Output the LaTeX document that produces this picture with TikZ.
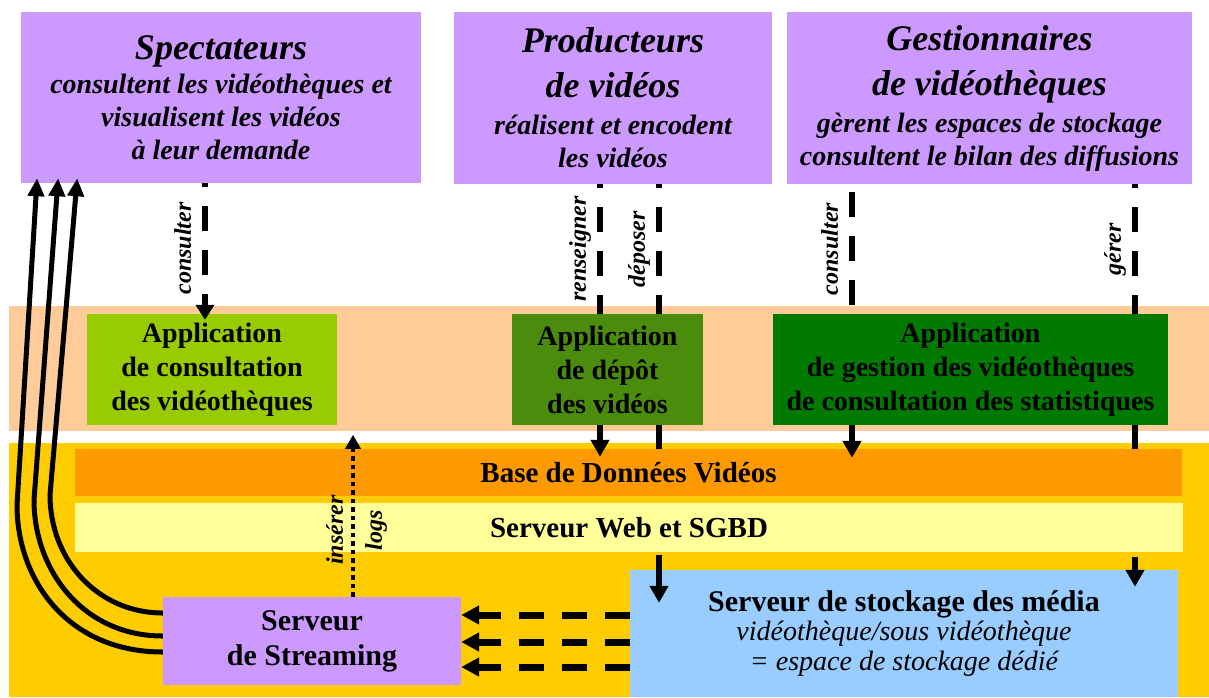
\documentclass[tikz,border=0pt]{standalone}
\usepackage{fontspec}
\setmainfont{Liberation Serif}
\usetikzlibrary{arrows.meta,calc}

\definecolor{mauve}{HTML}{CC99FF}
\definecolor{peche}{HTML}{FFCC99}
\definecolor{jaunefonce}{HTML}{FFCC00}
\definecolor{orangebdd}{HTML}{FF9900}
\definecolor{jauneclair}{HTML}{FFFF99}
\definecolor{bleuclair}{HTML}{99CCFF}
\definecolor{vertclair}{HTML}{99CC00}
\definecolor{vertmoyen}{HTML}{4C8C0C}
\definecolor{vertfonce}{HTML}{007A00}

\newcommand{\titre}{\fontsize{36}{44}\selectfont\bfseries\itshape}
\newcommand{\soustitre}{\fontsize{28}{33}\selectfont\bfseries\itshape}
\newcommand{\boite}{\fontsize{28}{34}\selectfont\bfseries}
\newcommand{\etiq}{\fontsize{24}{26}\selectfont\bfseries\itshape}

\begin{document}
\begin{tikzpicture}
    [
        x = 1pt, y = -1pt,
        acteur/.style = {fill = mauve, inner sep = 0pt, align = center, font = \soustitre},
        appli/.style = {inner sep = 0pt, align = center, font = \boite, minimum height = 111pt},
        couche/.style = {inner sep = 0pt, font = \fontsize{29}{34}\selectfont\bfseries},
        tiret/.style = {line width = 6.5pt, dash pattern = on 25pt off 19pt, dash phase = 21pt},
        tiretfleche/.style = {tiret, -{Triangle[length = 15pt, width = 18pt]}},
        trait/.style = {line width = 6.5pt, -{Triangle[length = 17pt, width = 18pt]}},
        plein/.style = {line width = 6.5pt},
        retour/.style = {line width = 7pt, dash pattern = on 25pt off 18pt, -{Triangle[length = 18pt, width = 18pt]}},
        flux/.style = {line width = 5pt, -{Triangle[length = 18pt, width = 16pt]}},
        journal/.style = {line width = 4.5pt, dash pattern = on 4.5pt off 4pt, -{Triangle[length = 14pt, width = 15pt]}},
        etiquette/.style = {font = \etiq, rotate = 90, anchor = south, text depth = 0pt, inner xsep = 0pt, inner ysep = 11pt}
    ]

        \useasboundingbox (0,0) rectangle (1209,697);
        \fill[white] (0,0) rectangle (1209,697);
        \fill[peche] (9,306) rectangle (1209,431);
        \fill[jaunefonce] (9,443) rectangle (1209,697);

        \coordinate (xcons) at (205,0);
        \coordinate (xrens) at (600,0);
        \coordinate (xdep) at (659,0);
        \coordinate (xgcons) at (852,0);
        \coordinate (xger) at (1135,0);
        \coordinate (xlogs) at (353,0);

        \node[acteur, minimum width = 400pt, minimum height = 171pt] (spect) at (221,97.5)
            {{\titre Spectateurs}\\[1pt] consultent les vidéothèques et\\ visualisent les vidéos\\ à leur demande};
        \node[acteur, minimum width = 318pt, minimum height = 172pt] (prod) at (613,98)
            {{\titre Producteurs}\\[12pt] {\titre de vidéos}\\[4pt] réalisent et encodent\\ les vidéos};
        \node[acteur, minimum width = 405pt, minimum height = 172pt] (gest) at (989.5,98)
            {{\titre Gestionnaires}\\[12pt] {\titre de vidéothèques}\\[4pt] gèrent les espaces de stockage\\ consultent le bilan des diffusions};

        \node[appli, fill = vertclair, minimum width = 250pt] (appcons) at (212,369.5)
            {Application\\ de consultation\\ des vidéothèques};
        \node[appli, fill = vertmoyen, minimum width = 191pt] (appdep) at (607.5,369.5)
            {Application\\ de dépôt\\ des vidéos};
        \node[appli, fill = vertfonce, minimum width = 395pt] (appgest) at (970.5,369.5)
            {Application\\ de gestion des vidéothèques\\ de consultation des statistiques};

        \node[couche, fill = orangebdd, minimum width = 1107pt, minimum height = 47pt] (bdd) at (628.5,472.5)
            {Base de Données Vidéos};
        \node[couche, fill = jauneclair, minimum width = 1108pt, minimum height = 49pt] (web) at (629,527.5)
            {Serveur Web et SGBD};

        \node[fill = bleuclair, inner sep = 0pt, align = center, minimum width = 548pt, minimum height = 127pt] (stock) at (904,633.5)
            {{\fontsize{30}{31}\selectfont\bfseries Serveur de stockage des média}\\[2pt]
             {\fontsize{28}{31}\selectfont\itshape vidéothèque/sous vidéothèque}\\[3pt]
             {\fontsize{28}{31}\selectfont\itshape = espace de stockage dédié}};
        \node[acteur, font = \fontsize{30}{35}\selectfont\bfseries, minimum width = 298pt, minimum height = 88pt] (stream) at (312,641)
            {Serveur\\ de Streaming};

        \draw[tiretfleche, shorten >= -6pt] (spect.south -| xcons) -- (appcons.north -| xcons)
            node[etiquette, midway] {consulter};

        \draw[tiret] (prod.south -| xrens) -- (appdep.north -| xrens)
            node[etiquette, midway] {renseigner};
        \draw[trait, shorten >= -8pt] (appdep.south -| xrens) -- (bdd.north -| xrens);

        \draw[tiret] (prod.south -| xdep) -- (appdep.north -| xdep)
            node[etiquette, midway] {déposer};
        \draw[plein] (appdep.south -| xdep) -- (bdd.north -| xdep);
        \draw[trait, shorten <= 3pt, shorten >= -33pt] (web.south -| xdep) -- (stock.north -| xdep);

        \draw[tiret, dash phase = 36pt] (gest.south -| xgcons) -- (appgest.north -| xgcons)
            node[etiquette, midway] {consulter};
        \draw[trait, shorten >= -9pt] (appgest.south -| xgcons) -- (bdd.north -| xgcons);

        \draw[tiret] (gest.south -| xger) -- (appgest.north -| xger)
            node[etiquette, midway] {gérer};
        \draw[plein] (appgest.south -| xger) -- (bdd.north -| xger);
        \draw[trait, shorten <= 5pt, shorten >= -17pt] (web.south -| xger) -- (stock.north -| xger);

        \draw[journal, shorten >= -14pt] (stream.north -| xlogs) -- (bdd.north -| xlogs)
            node[etiquette, pos = 0.45, inner ysep = 8pt] {insérer}
            node[etiquette, pos = 0.45, anchor = north, inner ysep = 10pt] {logs};

        \draw[retour] ([yshift = 18.5pt]stock.west) coordinate (r1) -- (r1 -| stream.east);
        \draw[retour] ([yshift = -8.5pt]stock.west) coordinate (r2) -- (r2 -| stream.east);
        \draw[retour] ([yshift = -33.5pt]stock.west) coordinate (r3) -- (r3 -| stream.east);

        \draw[flux, shorten >= -5pt] ([yshift = 28pt]stream.west) .. controls +(-65,0) and +(0,65) .. (50,495)
            -- ([xshift = 56pt]spect.south west);
        \draw[flux, shorten >= -5pt] ([yshift = 5pt]stream.west) .. controls +(-80,0) and +(0,70) .. (34,500)
            -- ([xshift = 37pt]spect.south west);
        \draw[flux, shorten >= -5pt] ([yshift = -11pt]stream.west) .. controls +(-95,0) and +(0,75) .. (17,505)
            -- ([xshift = 16pt]spect.south west);
\end{tikzpicture}
\end{document}
